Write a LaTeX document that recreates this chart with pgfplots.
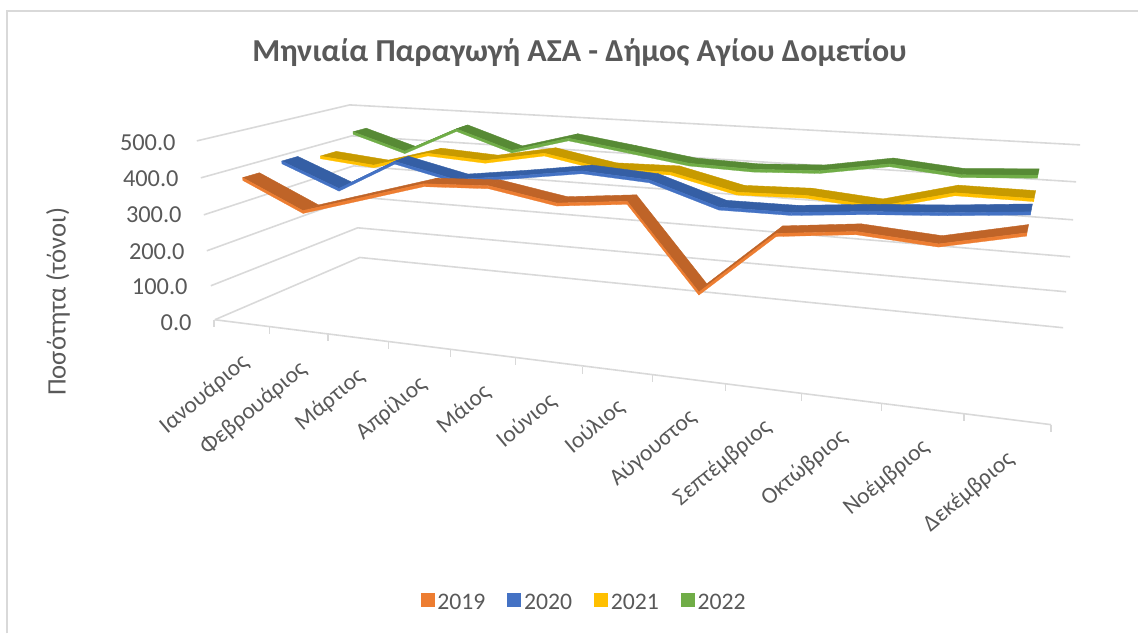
\documentclass[border=0pt]{standalone}
\usepackage{fontspec}
\setmainfont{Carlito}
\usepackage{pgfplots}
\usepackage{pgfplotstable}
\pgfplotsset{compat=1.18}
\definecolor{txt}{HTML}{595959}
\definecolor{gridc}{HTML}{D9D9D9}
\definecolor{oD}{HTML}{BF6428}\definecolor{oB}{HTML}{ED7D31}
\definecolor{bD}{HTML}{355FA5}\definecolor{bB}{HTML}{4472C4}
\definecolor{yD}{HTML}{C79A00}\definecolor{yB}{HTML}{FFC000}
\definecolor{gD}{HTML}{578A35}\definecolor{gB}{HTML}{70AD47}
% monthly quantities (tonnes)
\pgfplotstableread{
m y2019 y2020 y2021 y2022
0 394 409 391 437
1 317 343 376 387
2 369 435 424 467
3 422 397 415 412
4 432 422 449 460
5 402 450 417 435
6 423 440 421 409
7 206 382 379 404
8 375 384 385 413
9 398 403 370 445
10 386 417 422 428
11 432 436 422 440
}\data
% projection of (month index, depth 0..1, value) onto the picture's perspective
\newcommand\proj[4]{%
 \pgfmathsetmacro\sS{(#1+0.5)/12}%
 \pgfmathsetmacro\tT{\sS/(\sS+1.269*(1-\sS))}%
 \pgfmathsetmacro\xF{(215-0.036*#3)+\tT*(840+0.076*#3)}%
 \pgfmathsetmacro\xB{(360-0.02*#3)+\tT*(704+0.054*#3)}%
 \pgfmathsetmacro\yF{(320-0.358*#3)+\tT*(105-0.062*#3)}%
 \pgfmathsetmacro\yB{(257.7-0.305*#3)+\tT*(70.3-0.061*#3)}%
 \pgfmathsetmacro\resx{(1-#2)*\xF+#2*\xB}%
 \pgfmathsetmacro\resy{(1-#2)*\yF+#2*\yB}%
 \expandafter\let\csname #4x\endcsname\resx
 \expandafter\let\csname #4y\endcsname\resy
}
\newcommand\series[5]{%
 \foreach \i in {0,...,10}{%
  \pgfmathtruncatemacro\j{\i+1}%
  \pgfplotstablegetelem{\i}{#1}\of\data\let\va\pgfplotsretval
  \pgfplotstablegetelem{\j}{#1}\of\data\let\vb\pgfplotsretval
  \pgfmathsetmacro\vaa{\va-8}\pgfmathsetmacro\vbb{\vb-8}%
  \proj{\i}{#2}{\va}{A}\proj{\j}{#2}{\vb}{B}%
  \proj{\j}{#3}{\vb}{C}\proj{\i}{#3}{\va}{D}%
  \proj{\i}{#2}{\vaa}{E}\proj{\j}{#2}{\vbb}{F}%
  \edef\tmp{\noexpand\addplot[fill=#4,draw=#4,line width=0.3pt,forget plot,line join=round] coordinates {(\Ax,\Ay)(\Bx,\By)(\Cx,\Cy)(\Dx,\Dy)(\Ax,\Ay)};
   \noexpand\addplot[fill=#5,draw=#5,line width=0.2pt,forget plot,line join=round] coordinates {(\Ax,\Ay)(\Bx,\By)(\Fx,\Fy)(\Ex,\Ey)(\Ax,\Ay)};}%
  \tmp
 }%
}
\newcommand\vl[2]{\node[text=txt,font=\fontsize{18.3}{21}\selectfont,anchor=east,inner sep=0pt] at (axis cs:#1) {#2};}
\newcommand\xl[3]{\node[text=txt,font=\fontsize{17.5}{20}\selectfont,rotate=40,anchor=east,inner sep=0pt] at (axis cs:#1,#2) {#3};}
\newcommand\ti[3]{\addplot[gridc,line width=1pt,forget plot] coordinates {(#1,#2)(#1,#3)};}
\pgfplotsset{sq/.style={legend image code/.code={\fill[##1,draw=none] (0pt,-3.6pt) rectangle (10.5pt,6.9pt);}}}
\begin{document}
\begin{tikzpicture}
\begin{axis}[
 scale only axis,width=854.25pt,height=475.5pt,
 xmin=0,xmax=1139,ymin=0,ymax=634,y dir=reverse,
 axis lines=none,clip=false,
 legend style={draw=none,fill=none,at={(axis cs:585,603)},anchor=center,legend columns=4,
   font=\fontsize{17.8}{20}\selectfont,text=txt,/tikz/every even column/.append style={column sep=14.5pt},
   /tikz/every odd column/.append style={column sep=0pt}},
 legend cell align=left,
]
\path (axis cs:0,0) rectangle (axis cs:1139,634);
% frame
\addplot[gridc,line width=1.4pt,forget plot] coordinates {(7,634)(7,11)(1139,11)};
% gridlines: left wall and back wall
\addplot[gridc,line width=1.2pt,forget plot] coordinates {(215,320)(360,257.7)(1064,328)};
\addplot[gridc,line width=1.2pt,forget plot] coordinates {(211,286)(358,228)(1067,292)};
\addplot[gridc,line width=1.2pt,forget plot] coordinates {(207,251)(356,197)(1071,257)};
\addplot[gridc,line width=1.2pt,forget plot] coordinates {(204,215)(354,166)(1074,220)};
\addplot[gridc,line width=1.2pt,forget plot] coordinates {(201,178)(352,136)(1077,182)};
\addplot[gridc,line width=1.2pt,forget plot] coordinates {(197,141)(350,105)(1081,145)};
% category axis
\addplot[gridc,line width=1.2pt,forget plot] coordinates {(215,320)(1052,425)};
\ti{214.3}{320}{327}\ti{270}{327}{334}\ti{328.3}{334}{341}\ti{388.7}{342}{349}\ti{451}{350}{357}\ti{515.7}{358}{365}\ti{583.3}{367}{374}\ti{653.3}{375}{382}\ti{726}{384}{391}\ti{802.3}{394}{401}\ti{882}{404}{411}\ti{964.7}{414}{421}\ti{1051.7}{425}{432}
\series{y2022}{0.85}{0.94}{gD}{gB}
\series{y2021}{0.62}{0.73}{yD}{yB}
\series{y2020}{0.36}{0.47}{bD}{bB}
\series{y2019}{0.09}{0.205}{oD}{oB}
\addlegendimage{sq,fill=oB}\addlegendentry{2019}
\addlegendimage{sq,fill=bB}\addlegendentry{2020}
\addlegendimage{sq,fill=yB}\addlegendentry{2021}
\addlegendimage{sq,fill=gB}\addlegendentry{2022}
\node[text=txt,font=\bfseries\fontsize{24}{28}\selectfont] at (axis cs:580,53) {Μηνιαία Παραγωγή ΑΣΑ - Δήμος Αγίου Δομετίου};
\node[text=txt,font=\fontsize{20}{24}\selectfont,rotate=90] at (axis cs:58,302) {Ποσότητα (τόνοι)};
\vl{176,142.5}{500.0}\vl{179,178.5}{400.0}\vl{182,214.5}{300.0}\vl{185,251.5}{200.0}\vl{188,286.5}{100.0}\vl{192,322.5}{0.0}
\xl{246}{360}{Ιανουάριος}\xl{304}{367}{Φεβρουάριος}\xl{362}{374}{Μάρτιος}\xl{424}{382}{Απρίλιος}\xl{488}{390}{Μάιος}\xl{554}{399}{Ιούνιος}\xl{622}{405}{Ιούλιος}\xl{694}{415}{Αύγουστος}\xl{769}{425}{Σεπτέμβριος}\xl{845}{435}{Οκτώβριος}\xl{927}{445}{Νοέμβριος}\xl{1012}{457}{Δεκέμβριος}
\end{axis}
\end{tikzpicture}
\end{document}
